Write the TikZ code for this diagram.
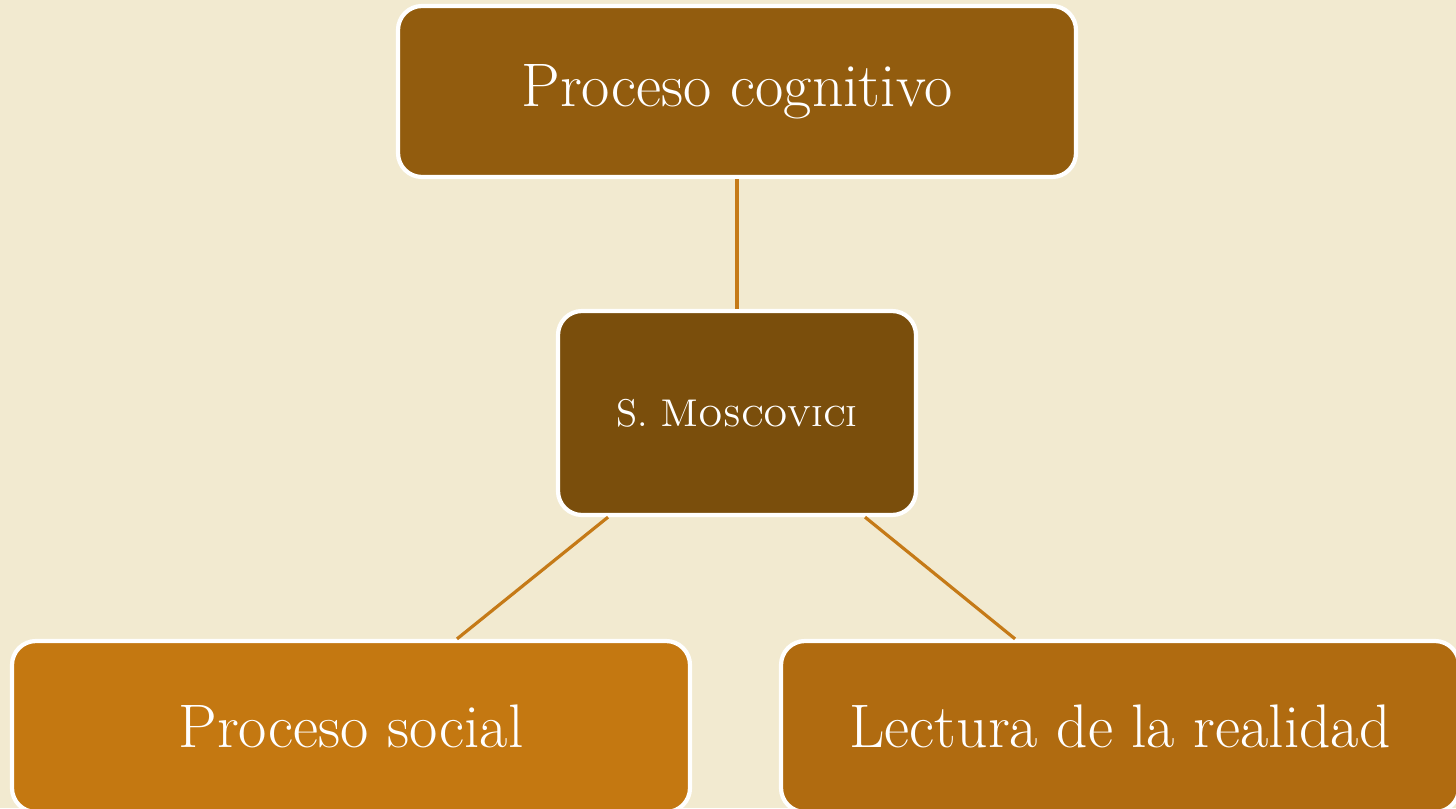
\documentclass[tikz,border=0pt]{standalone}
\usepackage{tikz}
\usetikzlibrary{positioning}
\definecolor{parchment}{HTML}{F2EAD0}
\definecolor{linkcol}{HTML}{C57A17}
\definecolor{boxA}{HTML}{925C0E}
\definecolor{boxB}{HTML}{7A4E0C}
\definecolor{boxC}{HTML}{C47811}
\definecolor{boxD}{HTML}{B06B10}

\begin{document}
\begin{tikzpicture}[
        box/.style={draw=white,line width=1.2pt,rounded corners=0.24cm,text=white,
            minimum width=6.78cm,minimum height=1.71cm,inner sep=0pt,
            font=\fontsize{17.5}{21}\selectfont},
        link/.style={draw=linkcol,line width=0.9pt}
    ]
        \fill[parchment] (0,0) rectangle (14.56,8.08);
        \useasboundingbox (0,0) rectangle (14.56,8.08);

        \coordinate (top) at (7.37,7.165);
        \coordinate (mid) at (7.37,3.95);
        \coordinate (left) at (3.51,0.815);
        \coordinate (right) at (11.20,0.815);

        \begin{scope}
        \clip (0,0) rectangle (14.56,8.08);
        \node[box,fill=boxA] (cognitivo) at (top) {Proceso cognitivo};
        \node[box,fill=boxB,minimum width=3.58cm,minimum height=2.04cm,
            font=\fontsize{11}{14}\selectfont] (moscovici) at (mid) {S. \textsc{Moscovici}};
        \node[box,fill=boxC] (social) at (left) {Proceso social};
        \node[box,fill=boxD] (lectura) at (right) {Lectura de la realidad};
        \end{scope}

        \draw[link] (cognitivo.south) -- (moscovici.north);
        \draw[link] ([xshift=-1.29cm]moscovici.south) -- ([xshift=1.06cm]social.north);
        \draw[link] ([xshift=1.28cm]moscovici.south) -- ([xshift=-1.05cm]lectura.north);
    \end{tikzpicture}
\end{document}
